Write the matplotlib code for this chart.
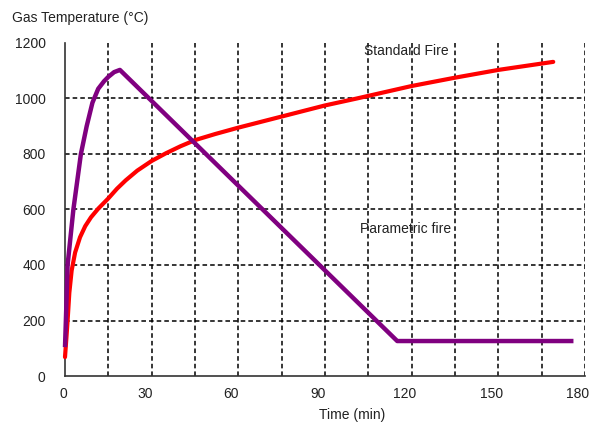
import matplotlib
matplotlib.use("Agg")
import matplotlib.pyplot as plt
from matplotlib.transforms import ScaledTranslation

plt.rcParams['font.family'] = ['Liberation Sans', 'DejaVu Sans']

# standard fire curve
std_time = [0, 0.5, 0.9, 1.5, 2.3, 3.5, 5.2, 7, 9, 11.5, 15, 18, 21, 25, 30, 35, 40, 45, 52, 60,
            75, 90, 101, 120, 135, 150, 169]
std_temp = [68, 140, 200, 300, 380, 445, 500, 540, 572, 603, 640, 675, 705, 740, 775, 803, 828, 850, 872, 895,
            935, 975, 1000, 1045, 1075, 1103, 1132]

# parametric fire curve
par_time = [0, 0.3, 0.9, 2.9, 5.5, 7.5, 9.5, 11.5, 13.5, 15, 17, 19, 115, 176]
par_temp = [104, 200, 400, 600, 800, 900, 985, 1035, 1062, 1078, 1095, 1103, 126, 126]

fig = plt.figure(figsize=(5.92, 4.24), dpi=100)
ax = fig.add_axes([0.1098, 0.1132, 0.8784, 0.7854])

ax.plot(std_time, std_temp, color='#ff0000', lw=3, solid_capstyle='round', solid_joinstyle='round',
        clip_on=False, zorder=3)
ax.plot(par_time, par_temp, color='#800080', lw=3.2, solid_capstyle='butt', solid_joinstyle='round',
        clip_on=False, zorder=4)

ax.set_xlim(0, 180)
ax.set_ylim(0, 1200)
ax.set_xticks(range(0, 181, 30))
ax.set_xticks(range(0, 181, 15), minor=True)
ax.set_yticks(range(0, 1201, 200))
ax.tick_params(which='both', length=0, labelsize=10, labelcolor='#222222')
ax.tick_params(axis='y', pad=14)
ax.tick_params(axis='x', pad=8)

# labels in the original sit a little left of their gridlines
for i, lab in enumerate(ax.get_xticklabels()):
    dx = -2 if i == 0 else -7
    lab.set_transform(lab.get_transform() + ScaledTranslation(dx / 100, 0, fig.dpi_scale_trans))

ax.grid(which='both', color='black', linestyle=(0, (3, 2)), linewidth=1.1)
ax.get_ygridlines()[-1].set_visible(False)
ax.get_ygridlines()[0].set_visible(False)
ax.get_xgridlines()[0].set_visible(False)

for s in ['top', 'right']:
    ax.spines[s].set_visible(False)
for s in ['left', 'bottom']:
    ax.spines[s].set_color('#333333')
    ax.spines[s].set_linewidth(1.2)

fig.text(0.02, 0.958, 'Gas Temperature (°C)', fontsize=10, color='#222222', va='center')
fig.text(0.595, 0.022, 'Time (min)', fontsize=10, color='#222222', va='center', ha='center')
ax.text(118, 1170, 'Standard Fire', fontsize=10, color='#222222', va='center', ha='center')
ax.text(118, 530, 'Parametric fire', fontsize=10, color='#222222', va='center', ha='center')

fig.savefig('out.png', dpi=100)
